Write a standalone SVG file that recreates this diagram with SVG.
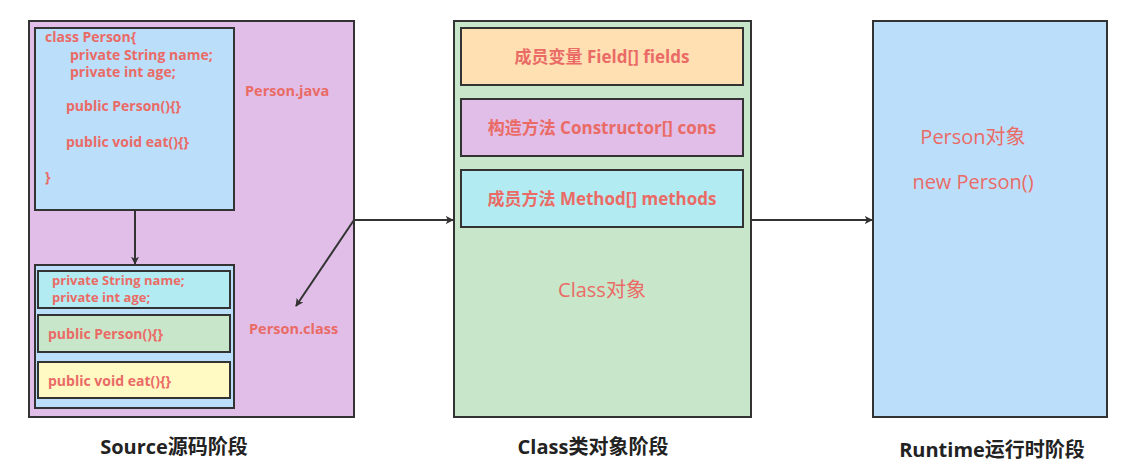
<svg xmlns="http://www.w3.org/2000/svg" width="1130" height="476" viewBox="0 0 1130 476">
<defs>
<marker id="ah" viewBox="0 0 10 10" refX="9" refY="5" markerWidth="8" markerHeight="8" markerUnits="userSpaceOnUse" orient="auto"><path d="M0,0 L10,5 L0,10 L2.5,5 Z" fill="#333"/></marker>
<style>
rect{stroke:#333;stroke-width:2}
.t{font-family:"Open Sans","Noto Sans CJK SC",sans-serif;fill:#EA6B66}
.b{font-weight:bold}
.c{font-size:14px;font-weight:bold}
.s{font-size:13px;font-weight:bold}
.m{text-anchor:middle}
.lab{font-family:"Open Sans","Noto Sans CJK SC",sans-serif;font-size:20px;font-weight:bold;fill:#222;text-anchor:middle}
.cn{fill:none;stroke:#333;stroke-width:2}
</style>
</defs>
<g id="source">
<rect x="29" y="21" width="325" height="396" fill="#E1BEE7"/>
<text class="t b" x="245" y="96" font-size="14.5">Person.java</text>
<text class="t b" x="249" y="334" font-size="14.5">Person.class</text>
</g>
<g id="javafile">
<rect x="35" y="28" width="199" height="182" fill="#BBDEFB"/>
<text class="t c" x="45" y="42">class Person{</text>
<text class="t c" x="70" y="60">private String name;</text>
<text class="t c" x="70" y="77">private int age;</text>
<text class="t c" x="66" y="111">public Person(){}</text>
<text class="t c" x="66" y="147">public void eat(){}</text>
<text class="t c" x="45" y="182">}</text>
</g>
<g id="classfile">
<rect x="35" y="265" width="199" height="143" fill="#BBDEFB"/>
<rect x="38" y="271" width="192" height="37" fill="#B2EBF2"/>
<text class="t s" x="52" y="285">private String name;</text>
<text class="t s" x="52" y="302">private int age;</text>
<rect x="38" y="315" width="192" height="37" fill="#C8E6C9"/>
<text class="t c" x="48" y="339">public Person(){}</text>
<rect x="38" y="362" width="192" height="36" fill="#FFF9C4"/>
<text class="t c" x="48" y="386">public void eat(){}</text>
</g>
<g id="classobj">
<rect x="454" y="21" width="297" height="396" fill="#C8E6C9"/>
<rect x="461" y="28" width="282" height="57" fill="#FFE0B2"/>
<text class="t b m" x="602" y="63" font-size="17">成员变量 Field[] fields</text>
<rect x="461" y="99" width="282" height="57" fill="#E1BEE7"/>
<text class="t b m" x="602" y="134" font-size="17">构造方法 Constructor[] cons</text>
<rect x="461" y="170" width="282" height="57" fill="#B2EBF2"/>
<text class="t b m" x="602" y="205" font-size="17">成员方法 Method[] methods</text>
<text class="t m" x="602" y="297" font-size="20">Class对象</text>
</g>
<g id="runtime">
<rect x="873" y="21" width="234" height="396" fill="#BBDEFB"/>
<text class="t m" x="973" y="144" font-size="20">Person对象</text>
<text class="t m" x="973" y="189" font-size="20">new Person()</text>
</g>
<g id="labels">
<text class="lab" x="174" y="454">Source源码阶段</text>
<text class="lab" x="593" y="454">Class类对象阶段</text>
<text class="lab" x="992" y="457">Runtime运行时阶段</text>
</g>
<g id="connectors">
<line class="cn" x1="135" y1="210" x2="135" y2="264" marker-end="url(#ah)"/>
<line class="cn" x1="354" y1="220" x2="296" y2="306" marker-end="url(#ah)"/>
<line class="cn" x1="354" y1="220" x2="453" y2="220" marker-end="url(#ah)"/>
<line class="cn" x1="751" y1="220" x2="872" y2="220" marker-end="url(#ah)"/>
</g>
</svg>
